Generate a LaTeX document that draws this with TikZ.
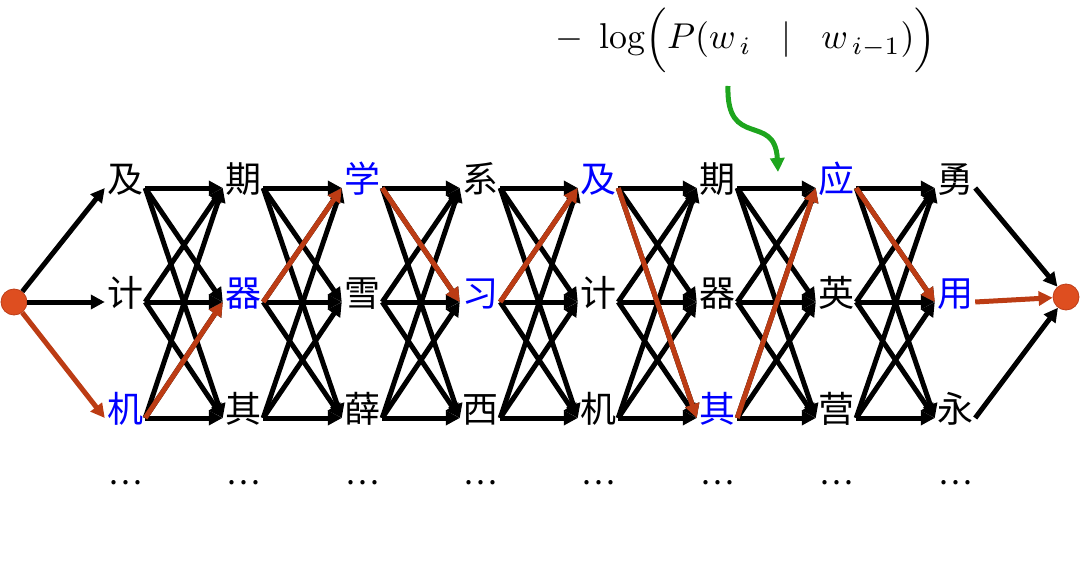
\documentclass[tikz,border=0pt]{standalone}
\usepackage{fontspec}
\newfontfamily\cjk{Noto Sans CJK SC}
\usetikzlibrary{arrows.meta}
\definecolor{pathred}{RGB}{188,60,20}
\definecolor{dotfill}{RGB}{222,78,32}
\definecolor{dotline}{RGB}{190,62,25}
\definecolor{cgreen}{RGB}{30,165,30}
\definecolor{wblue}{RGB}{0,0,255}
\begin{document}
\begin{tikzpicture}[x=1pt,y=-1pt,
  ch/.style={font=\cjk\fontsize{36}{42}\selectfont, inner sep=2pt, text height=1.0em, text depth=0.1em, anchor=center},
  hl/.style={ch, text=wblue},
  ell/.style={font=\cjk\fontsize{32}{38}\selectfont, inner sep=0pt},
  endpt/.style={circle, fill=dotfill, draw=dotline, line width=0.8pt, minimum size=26pt, inner sep=0pt},
  edge/.style={line width=5pt, -{Triangle[length=14pt,width=14pt]}},
  redge/.style={edge, draw=pathred, -{Triangle[length=14pt,width=14pt,fill=pathred]}},
  green arrow/.style={line width=5pt, draw=cgreen, -{Triangle[length=14pt,width=14pt,fill=cgreen]}},
  formula/.style={inner sep=0pt}
]
\useasboundingbox (0,0) rectangle (1080,578);

% start and end
\node[endpt] (s) at (14,302) {};
\node[endpt] (e) at (1066,297) {};

% columns
\node[ch] (n1-1) at (125,188) {及};
\node[ch] (n1-2) at (125,302) {计};
\node[hl] (n1-3) at (125,418) {机};

\node[ch] (n2-1) at (243,188) {期};
\node[hl] (n2-2) at (243,302) {器};
\node[ch] (n2-3) at (243,418) {其};

\node[hl] (n3-1) at (362,188) {学};
\node[ch] (n3-2) at (362,302) {雪};
\node[ch] (n3-3) at (362,418) {薛};

\node[ch] (n4-1) at (480,188) {系};
\node[hl] (n4-2) at (480,302) {习};
\node[ch] (n4-3) at (480,418) {西};

\node[hl] (n5-1) at (598,188) {及};
\node[ch] (n5-2) at (598,302) {计};
\node[ch] (n5-3) at (598,418) {机};

\node[ch] (n6-1) at (717,188) {期};
\node[ch] (n6-2) at (717,302) {器};
\node[hl] (n6-3) at (717,418) {其};

\node[hl] (n7-1) at (836,188) {应};
\node[ch] (n7-2) at (836,302) {英};
\node[ch] (n7-3) at (836,418) {营};

\node[ch] (n8-1) at (955,188) {勇};
\node[hl] (n8-2) at (955,302) {用};
\node[ch] (n8-3) at (955,418) {永};

% ellipses
\foreach \c/\x in {1/125,2/243,3/362,4/480,5/598,6/717,7/836,8/955}
  \node[ell] (d\c) at (\x,483) {…};

% black edges
\draw[edge] (s) -- (n1-1.west);
\draw[edge] (s) -- (n1-2.west);
\foreach \c/\n in {1/2,2/3,3/4,4/5,5/6,6/7,7/8}
  \foreach \i in {1,2,3}
    \foreach \j in {1,2,3}
      \draw[edge] (n\c-\i.east) -- (n\n-\j.west);
\draw[edge] (n8-1.east) -- (e);
\draw[edge] (n8-3.east) -- (e);

% best path
\draw[redge] (s) -- (n1-3.west);
\draw[redge] (n1-3.east) -- (n2-2.west);
\draw[redge] (n2-2.east) -- (n3-1.west);
\draw[redge] (n3-1.east) -- (n4-2.west);
\draw[redge] (n4-2.east) -- (n5-1.west);
\draw[redge] (n5-1.east) -- (n6-3.west);
\draw[redge] (n6-3.east) -- (n7-1.west);
\draw[redge] (n7-1.east) -- (n8-2.west);
\draw[redge] (n8-2.east) -- (e);

% formula
\node[formula] (f) at (746,40) {\resizebox{380pt}{!}{$-\;\log\Bigl(P(w_{\,i}\;\;\mid\;\;w_{\,i-1})\Bigr)$}};
\coordinate (g0) at (728,86);
\coordinate (g1) at (778,172);
\draw[green arrow] (g0) .. controls (726,150) and (775,112) .. (g1);
\end{tikzpicture}
\end{document}
